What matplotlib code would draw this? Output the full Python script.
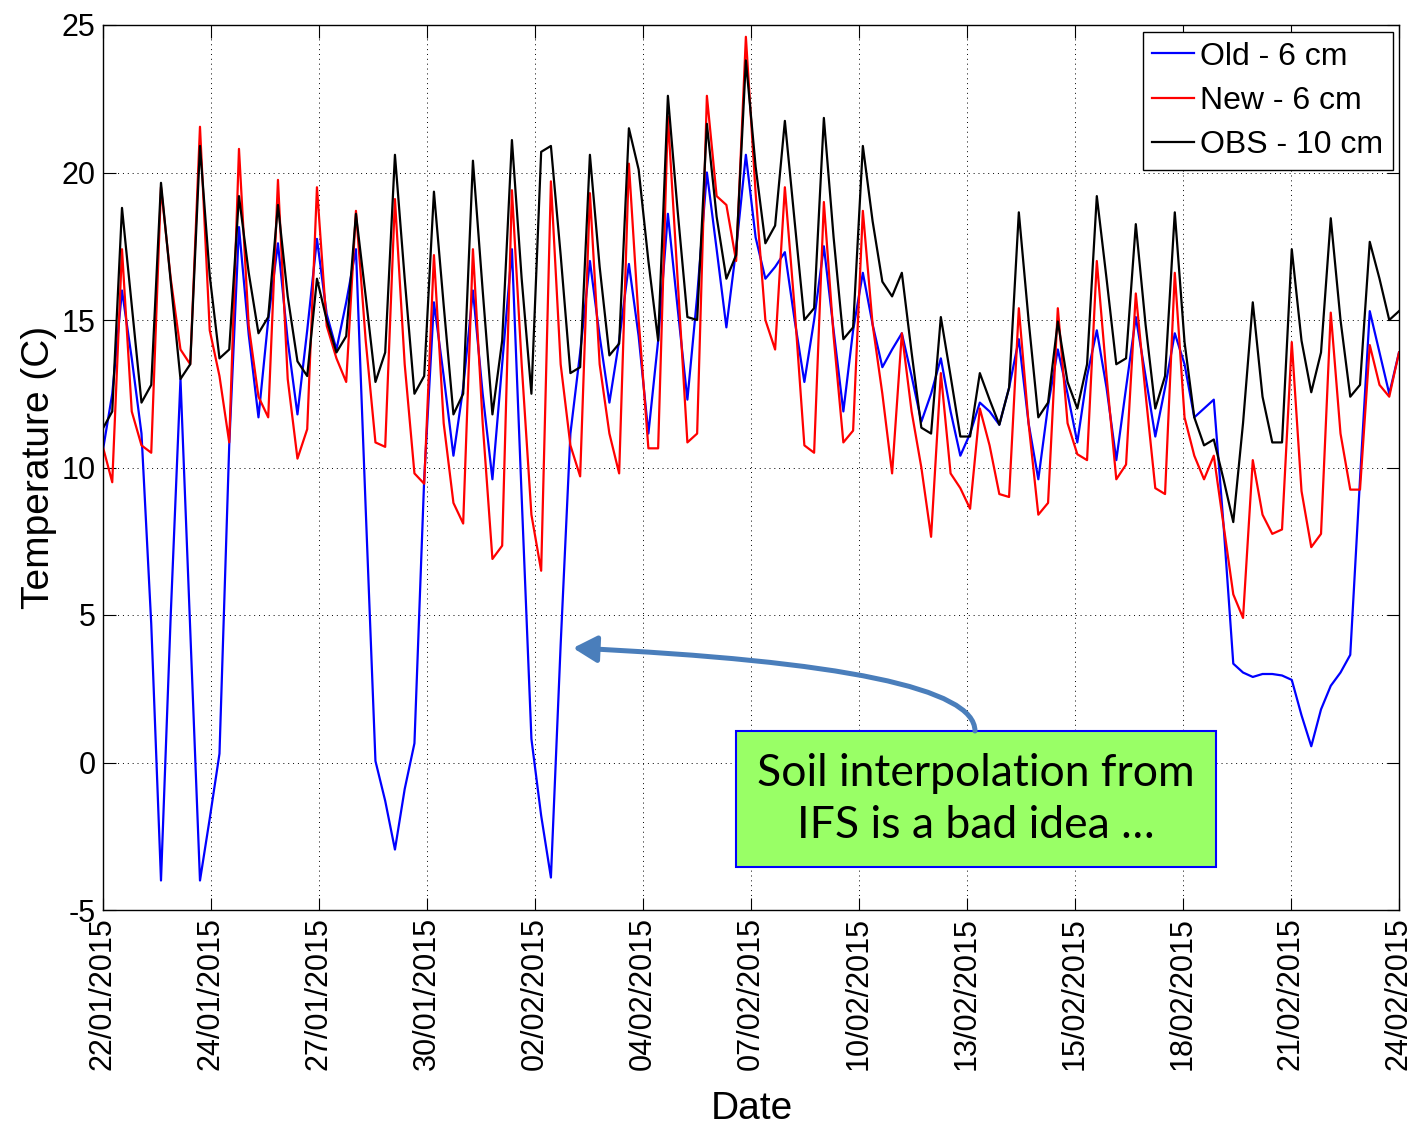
import matplotlib
matplotlib.use('Agg')
import matplotlib.pyplot as plt
from matplotlib.path import Path
from matplotlib.patches import FancyArrowPatch, Rectangle, ArrowStyle
import pandas as pd

plt.rcParams['font.family'] = ['Liberation Sans', 'DejaVu Sans']

# ---------------- data (6-hourly samples) ----------------
start_date = '2015-01-22'
end_date = '2015-02-24'

old_6cm = [10.5, 12.5, 16.0, 13.7,
           11.15, 4.7, -4.0, 5.0,
           13.0, 4.5, -4.0, -1.9,
           0.3, 10.75, 18.15, 14.5,
           11.7, 15.0, 17.6, 14.3,
           11.8, 14.65, 17.75, 15.2,
           14.0, 15.6, 17.4, 8.6,
           0.05, -1.3, -2.95, -0.9,
           0.65, 9.6, 15.6, 13.1,
           10.4, 12.7, 16.0, 12.5,
           9.6, 13.5, 17.4, 9.0,
           0.8, -1.8, -3.9, 4.0,
           11.15, 13.9, 17.0, 14.45,
           12.2, 14.3, 16.9, 14.45,
           11.15, 14.3, 18.6, 15.4,
           12.3, 15.8, 20.0, 17.4,
           14.75, 17.4, 20.6, 17.8,
           16.4, 16.8, 17.3, 15.0,
           12.9, 15.0, 17.5, 14.65,
           11.9, 14.65, 16.6, 14.85,
           13.4, 14.0, 14.55, 13.1,
           11.55, 12.5, 13.7, 11.9,
           10.4, 11.15, 12.2, 11.9,
           11.45, 12.7, 14.35, 11.5,
           9.6, 12.1, 14.0, 12.5,
           10.85, 13.1, 14.65, 12.7,
           10.25, 12.7, 15.1, 13.1,
           11.05, 12.7, 14.55, 13.5,
           11.7, 12.0, 12.3, 8.05,
           3.35, 3.05, 2.9, 3.0,
           3.0, 2.95, 2.8, 1.6,
           0.55, 1.8, 2.6, 3.05,
           3.65, 9.6, 15.3, 13.9,
           12.5, 13.9]

new_6cm = [10.75, 9.5, 17.4, 11.9,
           10.75, 10.5, 19.5, 16.4,
           14.0, 13.5, 21.55, 14.65,
           13.1, 10.85, 20.8, 14.8,
           12.4, 11.7, 19.75, 13.0,
           10.3, 11.3, 19.5, 14.8,
           13.7, 12.9, 18.7, 14.3,
           10.85, 10.7, 19.1, 13.5,
           9.8, 9.45, 17.2, 11.5,
           8.8, 8.1, 17.4, 11.5,
           6.9, 7.35, 19.4, 13.5,
           8.4, 6.5, 19.7, 13.5,
           10.75, 9.7, 19.3, 13.5,
           11.15, 9.8, 20.3, 15.0,
           10.65, 10.65, 21.9, 16.4,
           10.85, 11.15, 22.6, 19.2,
           18.9, 17.0, 24.6, 19.3,
           15.0, 14.0, 19.5, 15.4,
           10.75, 10.5, 19.0, 14.45,
           10.85, 11.25, 18.7, 14.85,
           12.5, 9.8, 14.55, 11.9,
           10.0, 7.65, 13.2, 9.8,
           9.3, 8.6, 12.0, 10.75,
           9.1, 9.0, 15.4, 11.5,
           8.4, 8.8, 15.4, 11.5,
           10.45, 10.25, 17.0, 13.1,
           9.6, 10.1, 15.9, 12.5,
           9.3, 9.1, 16.6, 11.7,
           10.4, 9.6, 10.4, 8.05,
           5.7, 4.9, 10.25, 8.4,
           7.75, 7.9, 14.25, 9.2,
           7.3, 7.75, 15.25, 11.15,
           9.25, 9.25, 14.15, 12.8,
           12.4, 13.9]

obs_10cm = [11.3, 11.9, 18.8, 15.5,
            12.2, 12.8, 19.65, 16.3,
            13.0, 13.5, 20.9, 16.5,
            13.7, 14.0, 19.2, 16.6,
            14.55, 15.1, 18.9, 15.8,
            13.6, 13.1, 16.4, 15.0,
            13.9, 14.45, 18.6, 15.8,
            12.9, 13.9, 20.6, 16.4,
            12.5, 13.1, 19.35, 15.5,
            11.8, 12.5, 20.4, 16.0,
            11.8, 14.3, 21.1, 16.4,
            12.5, 20.7, 20.9, 17.2,
            13.2, 13.4, 20.6, 16.8,
            13.8, 14.2, 21.5, 20.1,
            17.0, 14.3, 22.6, 18.7,
            15.1, 15.0, 21.65, 18.5,
            16.4, 17.2, 23.8, 20.2,
            17.6, 18.2, 21.75, 18.35,
            15.0, 15.4, 21.85, 17.8,
            14.35, 14.75, 20.9, 18.35,
            16.3, 15.8, 16.6, 13.9,
            11.35, 11.15, 15.1, 13.1,
            11.05, 11.05, 13.2, 12.3,
            11.45, 12.7, 18.65, 15.0,
            11.7, 12.2, 14.95, 12.9,
            12.0, 13.5, 19.2, 16.4,
            13.5, 13.7, 18.25, 14.85,
            12.0, 13.1, 18.65, 14.25,
            11.7, 10.75, 10.95, 9.6,
            8.15, 11.5, 15.6, 12.4,
            10.85, 10.85, 17.4, 14.3,
            12.55, 13.9, 18.45, 15.0,
            12.4, 12.8, 17.65, 16.4,
            15.0, 15.3]

series_labels = ['Old - 6 cm', 'New - 6 cm', 'OBS - 10 cm']
xtick_labels = ['22/01/2015', '24/01/2015', '27/01/2015', '30/01/2015',
                '02/02/2015', '04/02/2015', '07/02/2015', '10/02/2015',
                '13/02/2015', '15/02/2015', '18/02/2015', '21/02/2015',
                '24/02/2015']
yticks = [-5, 0, 5, 10, 15, 20, 25]
annotation_text = 'Soil interpolation from\nIFS is a bad idea …'

# ---------------- figure ----------------
W, H = 1415, 1127
fig = plt.figure(figsize=(W / 100, H / 100), dpi=100)
ax = fig.add_axes([102.5 / W, 1 - 910 / H, 1296.5 / W, 885 / H])

times = pd.date_range(start_date, end_date, periods=len(obs_10cm))
t0, t1 = pd.Timestamp(start_date), pd.Timestamp(end_date)

ax.plot(times, old_6cm, color='#0000ff', lw=1.6, label=series_labels[0])
ax.plot(times, new_6cm, color='#ff0000', lw=1.6, label=series_labels[1])
ax.plot(times, obs_10cm, color='#000000', lw=1.6, label=series_labels[2])

ax.set_xlim(t0, t1)
ax.set_ylim(yticks[0], yticks[-1])

tick_pos = [t0 + (t1 - t0) * k / (len(xtick_labels) - 1) for k in range(len(xtick_labels))]
ax.set_xticks(tick_pos)
ax.set_xticklabels(xtick_labels, rotation=90)
ax.set_yticks(yticks)
ax.set_yticklabels([str(v) for v in yticks])

ax.tick_params(direction='in', length=9, width=0.8, top=True, right=True,
               labelsize=22)
ax.tick_params(axis='x', pad=5)
ax.tick_params(axis='y', pad=5)
ax.grid(True, linestyle=(0, (1, 4)), color='k', lw=0.7)
for s in ax.spines.values():
    s.set_linewidth(1.0)

ax.set_xlabel('Date', fontsize=28)
ax.xaxis.set_label_coords(0.501, -0.205)
ax.set_ylabel('Temperature (C)', fontsize=28)
ax.yaxis.set_label_coords(-0.035, 0.5)

leg = ax.legend(loc='upper right', bbox_to_anchor=(0.9954, 0.992),
                borderaxespad=0, fancybox=False, edgecolor='k', framealpha=1,
                fontsize=23, handlelength=1.3, handletextpad=0.2,
                labelspacing=0.45, borderpad=0.3)
leg.get_frame().set_linewidth(1.0)

# ---------------- annotation ----------------
box = Rectangle((736 / W, 1 - 867 / H), 480 / W, 136 / H,
                transform=fig.transFigure, facecolor='#99ff66',
                edgecolor='#0000ff', lw=1.5, zorder=5)
fig.add_artist(box)
fig.text(976 / W, 1 - 799.5 / H, annotation_text, ha='center', va='center',
         fontsize=32, family=['Lato', 'DejaVu Sans'], linespacing=1.32,
         zorder=6)

verts = [(975 / W, 396 / H), (975 / W, 460 / H), (573 / W, 479 / H)]
arrow_path = Path(verts, [Path.MOVETO, Path.CURVE3, Path.CURVE3])
arrow = FancyArrowPatch(path=arrow_path, transform=fig.transFigure,
                        arrowstyle=ArrowStyle('-|>', head_length=0.8, head_width=0.45),
                        mutation_scale=18, lw=3.6, color='#4a7ebb', zorder=6)
fig.add_artist(arrow)

fig.savefig('out.png', dpi=100)
